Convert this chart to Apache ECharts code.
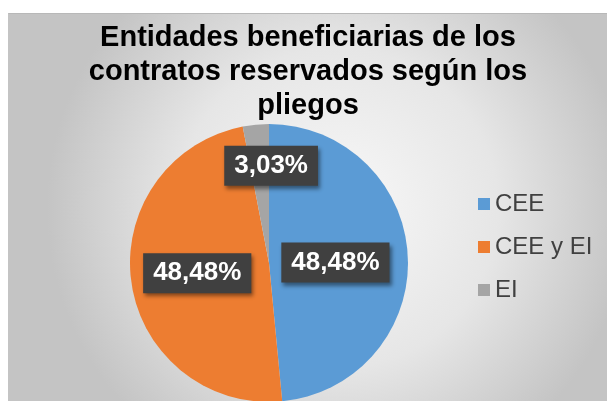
<!DOCTYPE html>
<html>
<head>
<meta charset="utf-8">
<script src="https://cdn.jsdelivr.net/npm/echarts@6/dist/echarts.min.js"></script>
<style>
  html, body { margin: 0; padding: 0; background: #fff; }
  #chart {
    position: absolute;
    left: 8px;
    top: 13px;
    width: 598px;
    height: 388px;
    border-top: 1px solid #b8b8b8;
    border-left: 1px solid #c4c4c4;
  }
</style>
</head>
<body>
<div id="chart"></div>
<script>
const titleText = "Entidades beneficiarias de los\ncontratos reservados según los\npliegos";
const categories = ["CEE", "CEE y EI", "EI"];
const counts = [16, 16, 1];
const colors = ["#5b9bd5", "#ed7d31", "#a5a5a5"];

const total = counts.reduce((a, b) => a + b, 0);

const chart = echarts.init(document.getElementById("chart"));

chart.setOption({
  backgroundColor: {
    type: "radial",
    x: 0.55,
    y: 0.5,
    r: 0.75,
    colorStops: [
      { offset: 0, color: "#f8f8f8" },
      { offset: 0.55, color: "#e6e6e6" },
      { offset: 1, color: "#c4c4c4" },
    ],
  },
  color: colors,
  title: {
    text: titleText,
    left: "center",
    top: 7,
    padding: 0,
    textStyle: {
      fontFamily: "Liberation Sans, Arial, sans-serif",
      fontSize: 29,
      fontWeight: "bold",
      color: "#000",
      lineHeight: 34,
    },
  },
  legend: {
    orient: "vertical",
    left: 464,
    top: 172,
    itemWidth: 12,
    itemHeight: 12,
    itemGap: 17,
    icon: "rect",
    data: categories,
    textStyle: {
      fontFamily: "Liberation Sans, Arial, sans-serif",
      fontSize: 24,
      lineHeight: 26,
      color: "#404040",
    },
  },
  series: [
    {
      type: "pie",
      center: [260, 249],
      radius: 139,
      startAngle: 90,
      clockwise: true,
      animation: false,
      itemStyle: { borderWidth: 0 },
      data: categories.map((name, i) => ({ name, value: counts[i] })),
      label: {
        show: true,
        position: "inside",
        formatter: (p) => ((p.value / total) * 100).toFixed(2).replace(".", ",") + "%",
        fontFamily: "Liberation Sans, Arial, sans-serif",
        fontSize: 26,
        fontWeight: "bold",
        color: "#fff",
        lineHeight: 30,
        backgroundColor: "#404040",
        padding: [5, 10],
        shadowColor: "rgba(0,0,0,0.45)",
        shadowBlur: 4,
        shadowOffsetX: 2,
        shadowOffsetY: 3,
      },
      labelLayout: (p) =>
        p.dataIndex === 2 ? { dx: 9, dy: -25 } : p.dataIndex === 0 ? { dx: -6, dy: 3 } : {},
      labelLine: { show: false },
    },
  ],
});
</script>
</body>
</html>
